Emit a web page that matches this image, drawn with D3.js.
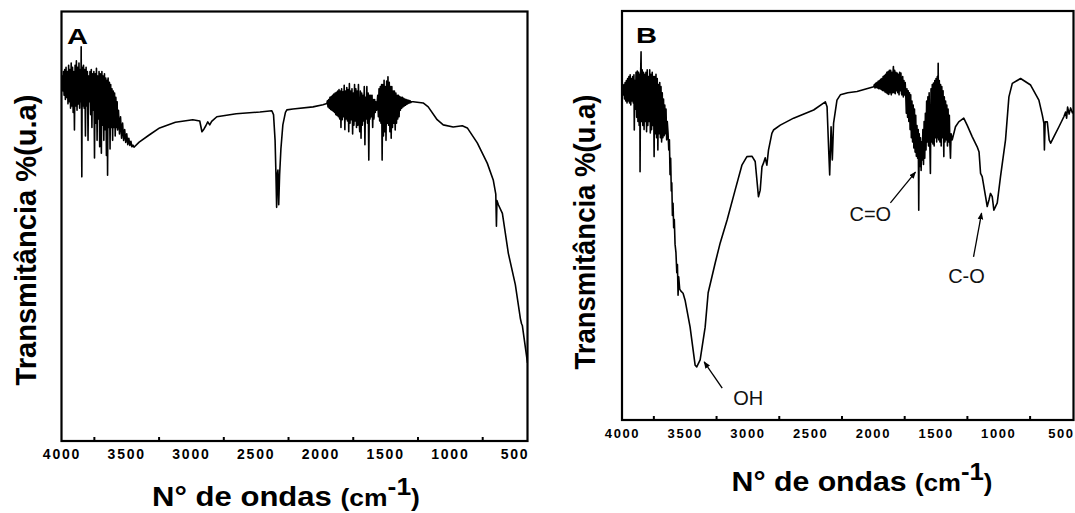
<!DOCTYPE html>
<html>
<head>
<meta charset="utf-8">
<script src="https://cdn.jsdelivr.net/npm/d3@7"></script>
<style>
  html, body { margin: 0; padding: 0; background: #fff; }
  svg { display: block; font-family: "Liberation Sans", Arial, sans-serif; }
</style>
</head>
<body>
<div id="graph"></div>
<script>
// tick values (cm-1)
var xLabels = [4000, 3500, 3000, 2500, 2000, 1500, 1000, 500];
var xMinor = [3750, 3250, 2750, 2250, 1750, 1250, 750];

// spectrum A : [wavenumber, transmittance]
var specA = [
  // O-H / water noise region
  [4000,83.4],[3995,85],[3990,81.5],[3985,86],[3980,80.5],[3975,86.5],[3970,79.5],[3965,87],[3960,80],[3955,86],
  [3950,78.5],[3945,87.5],[3940,79],[3935,86.5],[3930,77.5],[3925,88],[3920,78],[3915,87],[3910,76.5],[3905,86],
  [3900,72.4],[3895,87.5],[3890,78],[3885,88.5],[3880,77],[3875,87],[3870,78.5],[3865,88],[3860,77.5],[3855,86.5],
  [3850,79],[3848,91.8],[3843,61.5],[3840,87],[3835,78],[3830,87.5],[3825,77.5],[3820,86.5],[3815,71],[3810,87],
  [3805,78],[3800,86],[3795,70],[3790,85],[3785,79],
  [3780,86],[3775,76],[3770,86.5],[3765,73],[3760,85.5],[3755,77],[3750,86],[3745,65.9],[3740,85.5],[3735,74],
  [3730,86.8],[3725,70],[3720,85],[3715,75],[3710,86],[3705,68.5],[3700,85.5],[3695,74],[3692,67],[3688,86],
  [3683,73.5],[3678,85],[3673,70],[3668,85.5],[3663,72.5],[3658,84.5],[3653,66.5],[3648,84],[3644,61.9],[3640,84.5],
  [3635,73],[3630,83.5],[3625,68],[3620,83],[3615,73],[3610,82],[3605,70],[3600,81.5],[3595,73],[3590,81],
  [3585,71],[3580,80],[3575,73],[3570,79],[3567,72.4],
  [3560,77],[3552,71.5],[3544,75.5],[3536,70.5],[3528,74],[3520,70],[3512,72.5],[3504,69.5],[3496,71.5],[3488,69],
  [3480,70.5],[3472,68.8],[3464,69.8],[3456,68.5],[3448,68.9],[3440,68.4],
  // smooth part
  [3400,69.6],[3320,71.3],[3242,72.9],[3120,74.2],[2986,74.8],[2932,74.5],[2915,72.0],[2900,72.6],[2885,73.4],[2870,74.3],
  [2855,73.6],[2840,74.4],[2800,75.5],[2650,76.2],[2467,76.6],[2375,76.9],[2362,76.0],[2350,70],[2344,63],[2338,54.4],
  [2333,62],[2328,63.1],[2322,55],[2315,62],[2305,68],[2290,73.6],[2270,76.5],[2259,77.1],[2212,77.3],[2057,77.8],
  [1980,78.3],[1950,78.6],
  // water vapour region
  [1946,79.2],[1941,77.8],[1936,79.5],[1931,77.5],[1926,80],[1921,77.2],[1916,80.2],[1911,77],[1906,80.5],[1901,76.8],
  [1896,80.8],[1891,76.5],[1886,81],[1881,76],[1876,81.2],[1871,75.8],[1866,81.5],[1861,75.5],[1856,81.8],[1851,75],
  [1846,81.5],[1841,73],[1836,82],[1831,74.8],[1826,81.3],[1821,75.5],[1816,82.8],[1811,72.5],[1806,81.5],[1801,75],
  [1796,82.3],[1791,74.5],[1786,81.8],[1781,72],[1776,83.2],[1771,74],[1766,81.5],[1761,74.8],[1756,82],[1751,71.5],
  [1746,81],[1741,73.5],[1736,83],[1731,74.5],[1726,82],[1721,73],[1716,81.5],[1711,73.5],[1706,83],[1701,74.5],
  [1696,72],[1691,81.5],[1686,70.5],[1681,81],[1676,73.5],[1671,80.5],[1666,74.5],[1661,82.5],[1656,69],[1651,80],
  [1646,75],[1641,82.5],[1636,74],[1631,81],[1626,65.4],[1621,80.5],[1616,75],[1611,80.5],[1606,75.5],[1601,80.5],
  [1596,73],[1591,79.5],[1586,75],[1581,79.5],[1576,76.5],[1571,79],[1566,77],[1562,78.5],
  [1557,80.5],[1552,75.5],[1547,82],[1542,74.5],[1537,82.5],[1532,74],[1527,83],[1523,65.4],[1518,83],[1513,71],
  [1508,84],[1503,72],[1498,82.5],[1493,70],[1488,83.8],[1483,74],[1478,84.8],[1473,73.5],[1468,83.5],[1463,72],
  [1458,82.5],[1453,70.5],[1448,82.5],[1443,73],[1438,81.5],[1433,74],[1428,81.5],[1422,72.4],[1417,81],[1412,74],
  [1407,80.5],[1402,75],[1397,80.5],[1392,75.5],[1387,80.2],[1382,77],[1377,80],[1372,77.5],[1367,80],[1362,77.8],
  [1357,79.8],[1352,78],[1347,79.6],[1342,78.2],[1337,79.5],[1332,78.4],[1327,79.4],[1322,78.6],[1317,79.3],[1312,78.7],
  [1307,79.2],[1302,78.8],[1295,79],[1283,79.0],
  // low wavenumber tail
  [1206,78.7],[1167,77.8],[1098,74.8],[1051,73.6],[974,73.1],[904,73.4],[865,72.9],[788,69.4],[711,64.7],[664,60.7],
  [645,57.5],[640,50],[636,56],[625,55],[594,53.0],[548,43.7],[494,36.4],[455,28.5],[446,27.3],[440,26.9],[400,18.2]
];

// spectrum B : [wavenumber, transmittance]
var specB = [
  [4000,80.3],[3995,81],[3990,79.5],[3985,82],[3980,78.5],[3975,82.5],[3970,78],[3965,83],[3960,77.5],[3955,83.5],
  [3950,78],[3945,84],[3940,77.5],[3935,84.4],[3930,77],[3925,83.5],[3920,78],[3915,84],[3910,77.5],[3905,84.4],
  [3902,70.9],[3898,83],[3893,76],[3888,85],[3883,74],[3878,85.3],[3873,73],[3868,85],[3863,72],[3858,84.5],
  [3856,60.7],[3852,84],[3848,90],[3844,73],[3839,85.6],[3834,72],[3829,85],[3824,71],[3819,84.5],[3814,73],
  [3809,85],[3804,70.5],[3799,85.6],[3794,72],[3789,84],[3784,73],[3779,85.6],[3774,70.2],[3769,84.5],[3764,71],
  [3759,85],[3754,72],[3749,84],[3744,64.4],[3739,84],[3734,70],[3729,84.5],[3724,69],[3719,83.5],[3714,66],
  [3709,82],[3704,70],[3699,82.5],[3694,69],[3689,81.5],[3684,68],[3679,80],[3674,69],[3669,78.5],[3664,69.5],
  [3659,77],[3654,70],[3649,76],[3644,68.5],[3639,73],[3633,70.2],
  [3627,66],[3622,68.5],[3617,60],[3612,64],[3607,56],[3603,58],[3598,50],[3593,53],[3588,47],[3583,49],
  [3577,43],[3570,41],[3563,36],[3558,38],[3553,30.5],[3548,35],[3540,32],[3530,31.5],[3513,31],[3497,29.3],
  [3457,22.7],[3417,13.4],[3404,13.0],[3377,14.7],[3337,22.7],[3313,31.1],[3257,38.4],[3217,43.3],[3162,48.9],[3098,56.2],
  [3044,62.3],[3004,64.4],[2964,64.5],[2938,63.2],[2912,54.6],[2898,56.2],[2884,61.9],[2872,62.8],[2858,64.1],[2845,62.3],
  [2832,66.0],[2805,70.1],[2792,70.9],[2738,72.1],[2632,73.8],[2472,75.8],[2379,77.8],[2365,76.6],[2352,66.0],[2344,59.9],
  [2333,71.7],[2323,63.6],[2313,72.6],[2286,78.2],[2259,79.5],[2200,80.0],[2126,80.3],
  [1993,81.5],[1988,82],[1983,81.2],[1978,82.3],[1973,81.3],[1968,82.5],[1963,81.2],[1958,82.8],[1953,81],[1948,83],
  [1943,81],[1938,83.3],[1933,80.8],[1928,83.5],[1923,80.6],[1918,84],[1913,80.5],[1908,84.2],[1903,80.2],[1898,84.5],
  [1893,80],[1888,85],[1883,79.8],[1878,85.2],[1873,79.6],[1868,85.5],[1863,80],[1858,85.5],[1853,79.5],[1848,85],
  [1843,80],[1838,85.5],[1836,86.4],[1831,80],[1826,85.5],[1821,79.8],[1816,85],[1811,80.5],[1806,84.8],[1801,80],
  [1796,84.5],[1791,79.5],[1786,85],[1781,80.5],[1776,84.8],[1771,79.8],[1767,79.5],[1762,84],[1757,79],[1752,83],
  [1747,79.5],[1742,82.5],[1738,80],
  [1733,75],[1728,81],[1723,74],[1718,80.5],[1713,73],[1708,80],[1703,71],[1698,79.5],[1693,69],[1688,78],
  [1683,68],[1678,77],[1673,66.5],[1668,76],[1663,65.5],[1658,74.5],[1653,64.5],[1648,72],[1643,64],[1638,71],
  [1634,51.3],[1630,70],[1625,62],[1620,69],[1615,61],[1610,68],[1606,63.6],[1601,71],[1596,62.5],[1591,73],
  [1586,64],[1581,75],[1576,66],
  [1571,78],[1566,68],[1561,79],[1556,67],[1551,80],[1546,68],[1541,60.3],[1536,81],[1531,68],[1526,82],
  [1521,67.5],[1516,82.4],[1511,67],[1506,83],[1501,69],[1496,83.5],[1491,68],[1486,84],[1482,69],[1479,87.2],
  [1475,68.5],[1470,83],[1465,68],[1460,82],[1455,67],[1450,81.5],[1445,69],[1440,80.5],[1434,64.4],[1430,79],
  [1425,68],[1420,78],[1415,68.5],[1410,77],[1405,67],[1400,76],[1395,68],[1390,74.5],[1386,68],[1381,64],
  [1376,70],
  [1367,68.5],[1341,71.7],[1315,72.9],[1275,73.8],[1248,72.1],[1208,69.3],[1168,66.8],[1153,65.5],[1141,60.3],[1128,59.5],
  [1101,54.6],[1088,52.2],[1074,53.8],[1062,55.4],[1048,54.6],[1035,51.3],[1008,53.1],[982,59.5],[942,68.5],[915,79.0],
  [888,82.3],[822,83.5],[742,81.9],[676,78.2],[649,74.6],[636,72.5],[632,66.0],[626,72.9],[609,72.9],[594,68.5],
  [582,67.7],[556,69.3],[516,71.7],[476,74.2],[463,75.3],[455,73.8],[447,76.5],[435,74.8],[423,76.3],[409,75.1],[400,75.5]
];

// band labels for B: arrow tip, arrow tail, text anchor (data coords)
var notesB = [
  {text: "OH",  tip: [3345, 14.2], tail: [3201, 7.8],  at: [2994, 3.7]},
  {text: "C=O", tip: [1660, 60.6], tail: [1860, 53.1], at: [2020, 48.7]},
  {text: "C-O", tip: [1133, 50.6], tail: [1197, 39.9], at: [1253, 33.5]}
];

var svg = d3.select("#graph").append("svg")
  .attr("width", 1075)
  .attr("height", 513);

svg.append("defs").append("marker")
  .attr("id", "head")
  .attr("viewBox", "0 0 10 10")
  .attr("refX", 9).attr("refY", 5)
  .attr("markerWidth", 7).attr("markerHeight", 7)
  .attr("markerUnits", "userSpaceOnUse")
  .attr("orient", "auto")
  .append("path")
    .attr("d", "M0,1 L10,5 L0,9 Z")
    .attr("fill", "#000");

var panels = [
  {id: "A", data: specA, left: 61.5, right: 527.5, top: 11.5, bottom: 441,
   tickFont: 14, tickLS: 1.8, tickPad: 8,
   yTitle: {x: 36, y: 240, len: 291},
   xTitle: {x: 286, y: 506, len: 268},
   letter: {x: 67, y: 44}, notes: []},
  {id: "B", data: specB, left: 622, right: 1073.5, top: 11, bottom: 420,
   tickFont: 13, tickLS: 1.6, tickPad: 9,
   yTitle: {x: 595, y: 232, len: 275},
   xTitle: {x: 862, y: 491, len: 261},
   letter: {x: 636, y: 43}, notes: notesB}
];

panels.forEach(drawPanel);

function drawPanel(p) {

  let x = d3.scaleLinear().domain([4000, 400]).range([p.left, p.right]);
  let y = d3.scaleLinear().domain([0, 100]).range([p.bottom, p.top]);

  let g = svg.append("g");

  g.append("clipPath").attr("id", "clip" + p.id)
    .append("rect")
      .attr("x", p.left).attr("y", p.top)
      .attr("width", p.right - p.left).attr("height", p.bottom - p.top);

  // spectrum
  let line = d3.line().x(d => x(d[0])).y(d => y(d[1]));
  g.append("path")
    .datum(p.data)
    .attr("d", line)
    .attr("fill", "none")
    .attr("stroke", "#000")
    .attr("stroke-width", 1.6)
    .attr("stroke-linejoin", "round")
    .attr("clip-path", "url(#clip" + p.id + ")");

  // inward minor ticks
  g.append("g")
    .attr("transform", "translate(0," + p.bottom + ")")
    .call(d3.axisBottom(x).tickValues(xMinor).tickSize(-4).tickFormat(""))
    .call(a => a.select(".domain").remove())
    .selectAll("line").attr("stroke-width", 2);

  // tick labels
  g.append("g")
    .attr("transform", "translate(0," + p.bottom + ")")
    .call(d3.axisBottom(x).tickValues(xLabels).tickSize(0).tickPadding(p.tickPad).tickFormat(d3.format("d")))
    .call(a => a.select(".domain").remove())
    .selectAll("text")
      .attr("font-family", "'Liberation Sans', Arial, sans-serif")
      .attr("font-size", p.tickFont)
      .attr("font-weight", "bold")
      .attr("letter-spacing", p.tickLS)
      .attr("fill", "#000");

  // frame
  g.append("rect")
    .attr("x", p.left).attr("y", p.top)
    .attr("width", p.right - p.left).attr("height", p.bottom - p.top)
    .attr("fill", "none")
    .attr("stroke", "#000")
    .attr("stroke-width", 2.2);

  // panel letter
  g.append("text")
    .attr("x", p.letter.x).attr("y", p.letter.y)
    .attr("font-size", 22).attr("font-weight", "bold")
    .attr("textLength", 21).attr("lengthAdjust", "spacingAndGlyphs")
    .text(p.id);

  // y title
  g.append("text")
    .attr("transform", "translate(" + p.yTitle.x + "," + p.yTitle.y + ") rotate(-90)")
    .attr("text-anchor", "middle")
    .attr("font-size", 29).attr("font-weight", "bold")
    .attr("textLength", p.yTitle.len).attr("lengthAdjust", "spacingAndGlyphs")
    .text("Transmitância %(u.a)");

  // x title
  let xt = g.append("text")
    .attr("x", p.xTitle.x).attr("y", p.xTitle.y)
    .attr("text-anchor", "middle")
    .attr("font-size", 27).attr("font-weight", "bold");
  xt.append("tspan").text("N° de ondas ");
  xt.append("tspan").attr("font-size", 23).text("(cm");
  xt.append("tspan").attr("font-size", 23).attr("dy", -11).text("-1");
  xt.append("tspan").attr("font-size", 23).attr("dy", 11).text(")");
  let bb = xt.node().getBBox();
  let s = p.xTitle.len / bb.width;
  xt.attr("transform", "translate(" + p.xTitle.x + ",0) scale(" + s + ",1) translate(" + (-p.xTitle.x) + ",0)");

  // band annotations
  p.notes.forEach(function(n) {
    g.append("line")
      .attr("x1", x(n.tail[0])).attr("y1", y(n.tail[1]))
      .attr("x2", x(n.tip[0])).attr("y2", y(n.tip[1]))
      .attr("stroke", "#000").attr("stroke-width", 1.3)
      .attr("marker-end", "url(#head)");
    g.append("text")
      .attr("x", x(n.at[0])).attr("y", y(n.at[1]))
      .attr("text-anchor", "middle")
      .attr("font-size", 20)
      .attr("fill", "#111")
      .text(n.text);
  });
}
</script>
</body>
</html>
